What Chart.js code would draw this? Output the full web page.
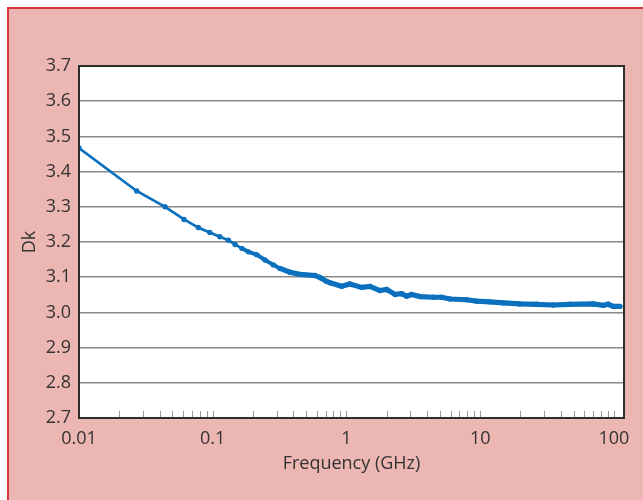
<!DOCTYPE html>
<html>
<head>
<meta charset="utf-8">
<script src="https://cdn.jsdelivr.net/npm/chart.js@4"></script>
<style>
  body { margin: 0; background: #fff; }
  #frame {
    position: absolute; left: 7px; top: 7px; width: 636px; height: 493px;
    background: #ecb6b2; border-top: 2px solid #d8343c; border-left: 2px solid #d8343c;
    box-sizing: border-box;
  }
  #wrap { position: absolute; left: 0; top: 0; width: 643px; height: 500px; }
</style>
</head>
<body>
<div id="frame"></div>
<div id="wrap"><canvas id="dkChart" width="643" height="500"></canvas></div>
<script>
// Frequency in GHz and measured Dk
const freqGHz = [0.01, 0.027, 0.044, 0.061, 0.078, 0.095, 0.113, 0.131, 0.147, 0.165,
    0.185, 0.213, 0.246, 0.284, 0.318, 0.378, 0.449, 0.582, 0.634, 0.711,
    0.754, 0.921, 1.06, 1.30, 1.50, 1.78, 2.00, 2.31, 2.59, 2.82,
    3.07, 3.55, 4.47, 5.15, 5.94, 7.92, 9.41, 11.8, 14.9, 19.8,
    26.4, 35.2, 46.9, 70.0, 83.2, 90.6, 98.8, 111];
const dk = [3.467, 3.345, 3.300, 3.264, 3.241, 3.227, 3.215, 3.205, 3.193, 3.182,
    3.172, 3.164, 3.149, 3.135, 3.125, 3.114, 3.108, 3.105, 3.099, 3.088,
    3.084, 3.074, 3.081, 3.071, 3.074, 3.062, 3.065, 3.051, 3.053, 3.046,
    3.051, 3.045, 3.043, 3.043, 3.038, 3.036, 3.032, 3.030, 3.027, 3.024,
    3.023, 3.021, 3.023, 3.024, 3.020, 3.023, 3.017, 3.017];

const xTickValues = [0.01, 0.1, 1, 10, 100];
const xTickLabels = ['0.01', '0.1', '1', '10', '100'];
const yMin = 2.7, yMax = 3.7, yStep = 0.1;
const xMin = 0.01, xMax = 119;

const blue = '#0b70bd';
const textColor = '#333';
const font = { family: 'Open Sans', size: 18 };

// white plot area, inner minor ticks, dark frame
const plotFrame = {
    id: 'plotFrame',
    beforeDraw(chart) {
        const a = chart.chartArea, ctx = chart.ctx;
        ctx.save();
        ctx.fillStyle = '#fff';
        ctx.fillRect(a.left, a.top, a.right - a.left, a.bottom - a.top);
        ctx.restore();
    },
    beforeDatasetsDraw(chart) {
        const a = chart.chartArea, ctx = chart.ctx, xs = chart.scales.x;
        ctx.save();
        ctx.strokeStyle = '#999';
        ctx.lineWidth = 1;
        xs.ticks.forEach(t => {
            if (t.value <= xMin) return;
            const px = Math.round(xs.getPixelForValue(t.value)) + 0.5;
            ctx.beginPath();
            ctx.moveTo(px, a.bottom);
            ctx.lineTo(px, a.bottom - 7);
            ctx.stroke();
        });
        ctx.restore();
    },
    afterDraw(chart) {
        const a = chart.chartArea, ctx = chart.ctx;
        ctx.save();
        ctx.strokeStyle = '#2d2d2d';
        ctx.lineWidth = 2;
        ctx.strokeRect(a.left, a.top, a.right - a.left, a.bottom - a.top);
        ctx.restore();
    }
};

new Chart(document.getElementById('dkChart').getContext('2d'), {
    type: 'line',
    data: {
        datasets: [{
            data: freqGHz.map((f, i) => ({ x: f, y: dk[i] })),
            borderColor: blue,
            backgroundColor: blue,
            pointBackgroundColor: blue,
            pointBorderWidth: 0,
            pointRadius: 2.7,
            borderWidth: 2.7,
            tension: 0,
            segment: {
                borderWidth: ctx => ctx.p0.parsed.x < 0.15 ? 2.7 : (ctx.p0.parsed.x < 0.3 ? 4 : 5.2)
            }
        }]
    },
    options: {
        responsive: false,
        animation: false,
        layout: { padding: { top: 66, right: 19, left: 0, bottom: 0 } },
        plugins: { legend: { display: false }, tooltip: { enabled: false } },
        scales: {
            x: {
                type: 'logarithmic',
                min: xMin,
                max: xMax,
                afterFit: s => { s.height = 82; },
                afterBuildTicks: s => {
                    const ticks = [];
                    for (let e = -2; e <= 2; e++) {
                        for (let k = 1; k <= 9; k++) {
                            const v = Number((k * Math.pow(10, e)).toPrecision(6));
                            if (v >= xMin && v <= xMax) ticks.push({ value: v });
                        }
                    }
                    s.ticks = ticks;
                },
                grid: { display: false, drawTicks: false },
                border: { display: false },
                ticks: {
                    autoSkip: false,
                    maxRotation: 0,
                    padding: 10,
                    color: textColor,
                    font: font,
                    callback: v => {
                        const i = xTickValues.findIndex(t => Math.abs(t - v) < t * 1e-6);
                        return i >= 0 ? xTickLabels[i] : '';
                    }
                },
                title: {
                    display: true,
                    text: 'Frequency (GHz)',
                    color: textColor,
                    font: font,
                    padding: { top: 0, bottom: 25 }
                }
            },
            y: {
                min: yMin,
                max: yMax,
                afterFit: s => { s.width = 79; },
                grid: { color: '#8a8a8a', lineWidth: 1.5, drawTicks: false },
                border: { display: false },
                ticks: {
                    stepSize: yStep,
                    padding: 8,
                    color: textColor,
                    font: font,
                    callback: v => v.toFixed(1)
                },
                title: {
                    display: true,
                    text: 'Dk',
                    color: textColor,
                    font: font,
                    padding: { top: 19, bottom: 0 }
                }
            }
        }
    },
    plugins: [plotFrame]
});
</script>
</body>
</html>
